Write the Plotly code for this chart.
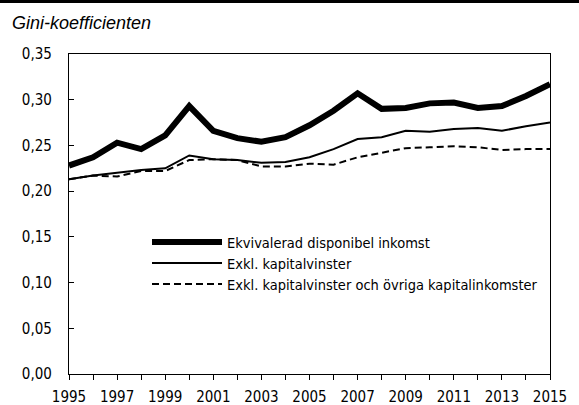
"""Gini-koefficienten 1995-2015: disponibel inkomst med och utan kapitalinkomster."""

import plotly.graph_objects as go

# data
years = list(range(1995, 2016))
disponibel = [0.228, 0.237, 0.253, 0.246, 0.261, 0.293, 0.266, 0.258, 0.254, 0.259,
              0.272, 0.288, 0.307, 0.290, 0.291, 0.296, 0.297, 0.291, 0.293, 0.304, 0.317]
exkl_kapitalvinster = [0.213, 0.217, 0.220, 0.223, 0.225, 0.239, 0.235, 0.234, 0.231, 0.232,
                       0.237, 0.246, 0.257, 0.259, 0.266, 0.265, 0.268, 0.269, 0.266, 0.271, 0.275]
exkl_ovriga = [0.213, 0.217, 0.216, 0.222, 0.222, 0.234, 0.235, 0.234, 0.227, 0.227,
               0.230, 0.229, 0.237, 0.242, 0.247, 0.248, 0.249, 0.248, 0.245, 0.246, 0.246]
series_names = [
    "Ekvivalerad disponibel inkomst",
    "Exkl. kapitalvinster",
    "Exkl. kapitalvinster och övriga kapitalinkomster",
]
x_ticktext = [str(y) if y % 2 == 1 else "" for y in years]
y_tickvals = [0, 0.05, 0.10, 0.15, 0.20, 0.25, 0.30, 0.35]

FONT = "DejaVu Sans Condensed, Liberation Sans Narrow, Arial Narrow, sans-serif"

# plottytans storlek i pixlar (för placering av text utanför axlarna)
W, H = 579, 405
ML, MR, MT, MB = 69, 29, 54, 31
PW, PH = W - ML - MR, H - MT - MB

fig = go.Figure()

styles = [
    {"width": 6, "dash": "solid"},
    {"width": 2, "dash": "solid"},
    {"width": 2, "dash": "7px,4px"},
]
legend_ids = ["legend", "legend2", "legend3"]
for name, values, style, leg in zip(
    series_names, [disponibel, exkl_kapitalvinster, exkl_ovriga], styles, legend_ids
):
    fig.add_trace(
        go.Scatter(
            x=years,
            y=values,
            mode="lines",
            name=name,
            legend=leg,
            line={"color": "black", "width": style["width"], "dash": style["dash"]},
        )
    )

# en legend per rad för att få radavståndet som i originalet
legend_rows_px = [242, 263, 284]
legends = {}
for leg, row in zip(legend_ids, legend_rows_px):
    legends[leg] = {
        "x": (147 - ML) / PW,
        "y": (H - MB - row) / PH,
        "xanchor": "left",
        "yanchor": "middle",
        "bgcolor": "rgba(0,0,0,0)",
        "font": {"family": FONT, "size": 14.5, "color": "black"},
        "itemwidth": 70,
    }

axis_line = {"showline": True, "linecolor": "black", "linewidth": 1.3, "showgrid": False, "zeroline": False}

fig.update_layout(
    width=W,
    height=H,
    margin={"l": ML, "r": MR, "t": MT, "b": MB, "autoexpand": False},
    plot_bgcolor="white",
    paper_bgcolor="white",
    separators=", ",
    font={"family": FONT, "size": 15, "color": "black"},
    showlegend=True,
    **legends,
    xaxis={
        **axis_line,
        "range": [1995, 2015],
        "tickvals": years,
        "ticktext": x_ticktext,
        "ticks": "outside",
        "ticklen": 5,
        "tickcolor": "black",
        "mirror": True,
        "ticklabelstandoff": 4,
        "tickfont": {"size": 15},
    },
    xaxis2={
        "overlaying": "x",
        "matches": "x",
        "range": [1995, 2015],
        "tickvals": years,
        "ticks": "inside",
        "ticklen": 5,
        "tickcolor": "black",
        "showticklabels": False,
        "showgrid": False,
        "zeroline": False,
        "anchor": "y",
        "side": "bottom",
    },
    yaxis={
        **axis_line,
        "range": [0, 0.35],
        "tickvals": y_tickvals,
        "tickformat": ".2f",
        "ticks": "inside",
        "ticklen": 5,
        "tickcolor": "black",
        "mirror": True,
        "ticklabelstandoff": 13,
        "tickfont": {"size": 15},
    },
    annotations=[
        {
            "text": "<i>Gini-koefficienten</i>",
            "xref": "paper",
            "yref": "paper",
            "x": (10 - ML) / PW,
            "y": 1 + (MT - 22.5) / PH,
            "xanchor": "left",
            "yanchor": "middle",
            "showarrow": False,
            "font": {"family": "Liberation Sans, Arial, sans-serif", "size": 18},
        }
    ],
    shapes=[
        {
            "type": "rect",
            "xref": "paper",
            "yref": "paper",
            "x0": -ML / PW - 0.01,
            "x1": 1 + MR / PW + 0.01,
            "y0": 1 + (MT - 3) / PH,
            "y1": 1 + (MT + 2) / PH,
            "fillcolor": "black",
            "line": {"width": 0},
        }
    ],
)

# sidans standardmarginal (8px) skulle annars flytta figuren
fig.write_html(
    "out.html",
    config={"displayModeBar": False},
    post_script="document.body.style.margin='0';",
)
